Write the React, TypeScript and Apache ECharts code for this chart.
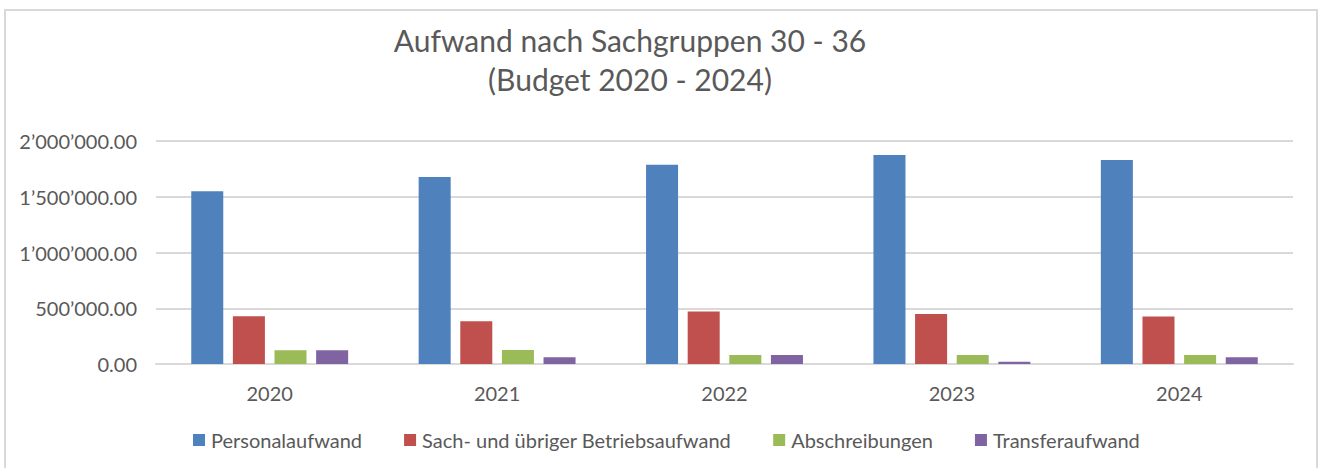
import React, { useEffect, useRef } from "react";
import * as echarts from "echarts";

const years = ["2020", "2021", "2022", "2023", "2024"];
const seriesNames = [
  "Personalaufwand",
  "Sach- und übriger Betriebsaufwand",
  "Abschreibungen",
  "Transferaufwand",
];
const personalaufwand = [1549000, 1677000, 1788000, 1874000, 1830000];
const sachaufwand = [428000, 383000, 470000, 448000, 425000];
const abschreibungen = [123000, 126000, 81000, 81000, 81000];
const transferaufwand = [123000, 60000, 81000, 21000, 60000];
const colors = ["#4F81BD", "#C0504D", "#9BBB59", "#8064A2"];
const titleLines = ["Aufwand nach Sachgruppen 30 - 36", "(Budget 2020 - 2024)"];

const FONT = "Lato";
const TEXT = "#595959";

function fmt(v: number): string {
  const fixed = v.toFixed(2);
  const [int, dec] = fixed.split(".");
  const withSep = int.replace(/\B(?=(\d{3})+(?!\d))/g, "\u2019");
  return withSep + "." + dec;
}

export default function App() {
  const ref = useRef<HTMLDivElement>(null);
  useEffect(() => {
    if (!ref.current) return;
    const chart = echarts.init(ref.current, null, { renderer: "svg" });
    const allData = [personalaufwand, sachaufwand, abschreibungen, transferaufwand];
    chart.setOption({
      animation: false,
      backgroundColor: "#ffffff",
      color: colors,
      graphic: [
        {
          type: "rect",
          shape: { x: 5, y: 10, width: 1312, height: 480 },
          style: { fill: "none", stroke: "#d9d9d9", lineWidth: 2 },
          silent: true,
        },
        {
          type: "text",
          x: 630,
          y: 40,
          style: {
            text: titleLines[0],
            font: `30px ${FONT}`,
            fill: TEXT,
            align: "center",
            verticalAlign: "middle",
          },
        },
        {
          type: "text",
          x: 630,
          y: 79,
          style: {
            text: titleLines[1],
            font: `30px ${FONT}`,
            fill: TEXT,
            align: "center",
            verticalAlign: "middle",
          },
        },
      ],
      grid: {
        left: 156,
        right: 27,
        top: 141,
        bottom: 104,
        containLabel: false,
      },
      legend: {
        data: seriesNames,
        left: 193,
        top: 430,
        padding: 0,
        itemWidth: 12,
        itemHeight: 12,
        itemGap: 42,
        icon: "rect",
        textStyle: {
          fontFamily: FONT,
          fontSize: 20,
          color: TEXT,
          padding: [0, 0, 0, 1],
        },
      },
      xAxis: {
        type: "category",
        data: years,
        axisLine: { show: true, lineStyle: { color: "#d9d9d9", width: 2 } },
        axisTick: { show: false },
        axisLabel: {
          fontFamily: FONT,
          fontSize: 20,
          color: TEXT,
          margin: 19,
        },
      },
      yAxis: {
        type: "value",
        min: 0,
        max: 2000000,
        interval: 500000,
        axisLine: { show: false },
        axisTick: { show: false },
        splitLine: { lineStyle: { color: "#d9d9d9", width: 2 } },
        axisLabel: {
          fontFamily: FONT,
          fontSize: 20,
          color: TEXT,
          margin: 19,
          formatter: (v: number) => fmt(v),
        },
      },
      series: seriesNames.map((name, i) => ({
        name,
        type: "bar",
        data: allData[i],
        barGap: "30%",
        barCategoryGap: "31%",
        itemStyle: { color: colors[i] },
      })),
    });
    return () => chart.dispose();
  }, []);
  return (
    <div
      ref={ref}
      style={{ position: "fixed", left: 0, top: 0, width: 1320, height: 468 }}
    />
  );
}
